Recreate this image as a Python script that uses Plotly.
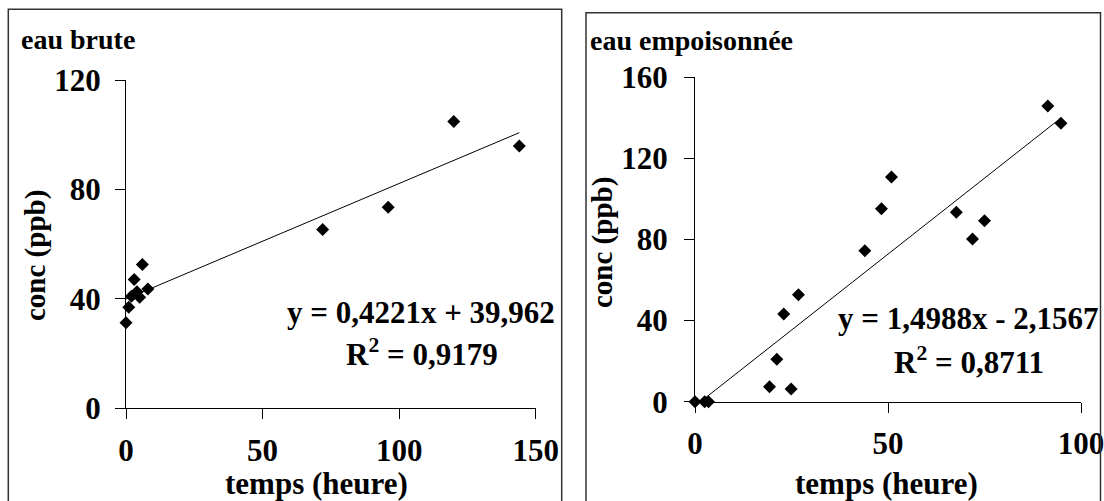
import plotly.graph_objects as go

W, H = 1104, 501

# ---------------- data ----------------
brute_t = [0, 1, 2, 3, 4, 5, 6, 8, 72, 96, 120, 144]
brute_c = [31.3, 36.9, 41.0, 47.1, 42.6, 40.6, 52.6, 43.6, 65.4, 73.5, 104.8, 95.9]
brute_fit = [0.4221, 39.962]   # slope, intercept
brute_eq = "y = 0,4221x + 39,962"
brute_r2 = "0,9179"

emp_t = [0, 2.5, 3.5, 19.3, 21.2, 23, 24.9, 26.8, 44, 48.3, 50.9, 67.7, 71.9, 75, 91.4, 94.8]
emp_c = [0, 0, 0, 7.4, 20.9, 43.3, 6.3, 52.7, 74.5, 95.2, 110.8, 93.4, 80.2, 89.3, 145.9, 137.3]
emp_fit = [1.4988, -2.1567]
emp_eq = "y = 1,4988x - 2,1567"
emp_r2 = "0,8711"

brute_xticks = [0, 50, 100, 150]
brute_yticks = [0, 40, 80, 120]
emp_xticks = [0, 50, 100]
emp_yticks = [0, 40, 80, 120, 160]

FONT = "Liberation Serif, Times New Roman, serif"


def px(x):
    return x / W


def py(y):
    return 1 - y / H


fig = go.Figure()

# left panel
fig.add_trace(go.Scatter(x=brute_t, y=brute_c, mode="markers", xaxis="x", yaxis="y",
                         marker=dict(symbol="diamond", size=10, color="black"),
                         cliponaxis=False, showlegend=False))
bx = [min(brute_t), max(brute_t)]
fig.add_trace(go.Scatter(x=bx, y=[brute_fit[0] * v + brute_fit[1] for v in bx], mode="lines",
                         xaxis="x", yaxis="y", line=dict(color="black", width=1), showlegend=False))

# right panel
fig.add_trace(go.Scatter(x=emp_t, y=emp_c, mode="markers", xaxis="x2", yaxis="y2",
                         marker=dict(symbol="diamond", size=10, color="black"),
                         cliponaxis=False, showlegend=False))
ex = [min(emp_t), max(emp_t)]
fig.add_trace(go.Scatter(x=ex, y=[emp_fit[0] * v + emp_fit[1] for v in ex], mode="lines",
                         xaxis="x2", yaxis="y2", line=dict(color="black", width=1), showlegend=False))

tickfont = dict(family=FONT, size=31, color="black", weight="bold")
common = dict(showline=True, linecolor="black", linewidth=1, ticks="outside", ticklen=10,
              tickcolor="black", tickwidth=1, showgrid=False, zeroline=False,
              tickfont=tickfont, fixedrange=True, automargin=False,
              ticklabeloverflow="allow")

fig.update_layout(
    width=W, height=H, autosize=False,
    margin=dict(l=0, r=0, t=0, b=0, pad=0, autoexpand=False),
    paper_bgcolor="white", plot_bgcolor="white",
    xaxis=dict(domain=[px(126), px(535.7)], range=[0, 150], tickvals=brute_xticks,
               anchor="y", ticklabelstandoff=4, **common),
    yaxis=dict(domain=[py(408.3), py(80)], range=[0, 120], tickvals=brute_yticks,
               anchor="x", ticklabelstandoff=8, **common),
    xaxis2=dict(domain=[px(695), px(1081)], range=[0, 100], tickvals=emp_xticks,
                anchor="y2", ticklabelstandoff=4, **common),
    yaxis2=dict(domain=[py(401.7), py(77.3)], range=[0, 160], tickvals=emp_yticks,
                anchor="x2", ticklabelstandoff=10, **common),
)

# panel frames
fig.add_shape(type="rect", xref="paper", yref="paper", x0=px(8.3), x1=px(561.7),
              y0=py(510), y1=py(9.3), line=dict(color="#333333", width=1.5))
fig.add_shape(type="rect", xref="paper", yref="paper", x0=px(586), x1=px(1100.5),
              y0=py(510), y1=py(12.7), line=dict(color="#333333", width=1.5))


def text(x, y, s, size, xanchor="center", angle=0):
    fig.add_annotation(x=px(x), y=py(y), xref="paper", yref="paper", text=s, showarrow=False,
                       xanchor=xanchor, yanchor="middle", textangle=angle,
                       font=dict(family=FONT, size=size, color="black", weight="bold"))


# titles
text(19, 39, "eau brute", 28, xanchor="left")
text(588, 40, "eau empoisonnée", 28, xanchor="left")

# axis titles
text(36, 256, "conc (ppb)", 29, angle=-90)
text(316, 483, "temps (heure)", 31)
text(603, 243, "conc (ppb)", 29, angle=-90)
text(886, 483, "temps (heure)", 31)

# equations
text(421, 312, brute_eq, 31)
text(422, 352, "R<sup>2</sup> = " + brute_r2, 31)
text(968, 318, emp_eq, 31)
text(969, 360, "R<sup>2</sup> = " + emp_r2, 31)

fig.write_html("out.html")
